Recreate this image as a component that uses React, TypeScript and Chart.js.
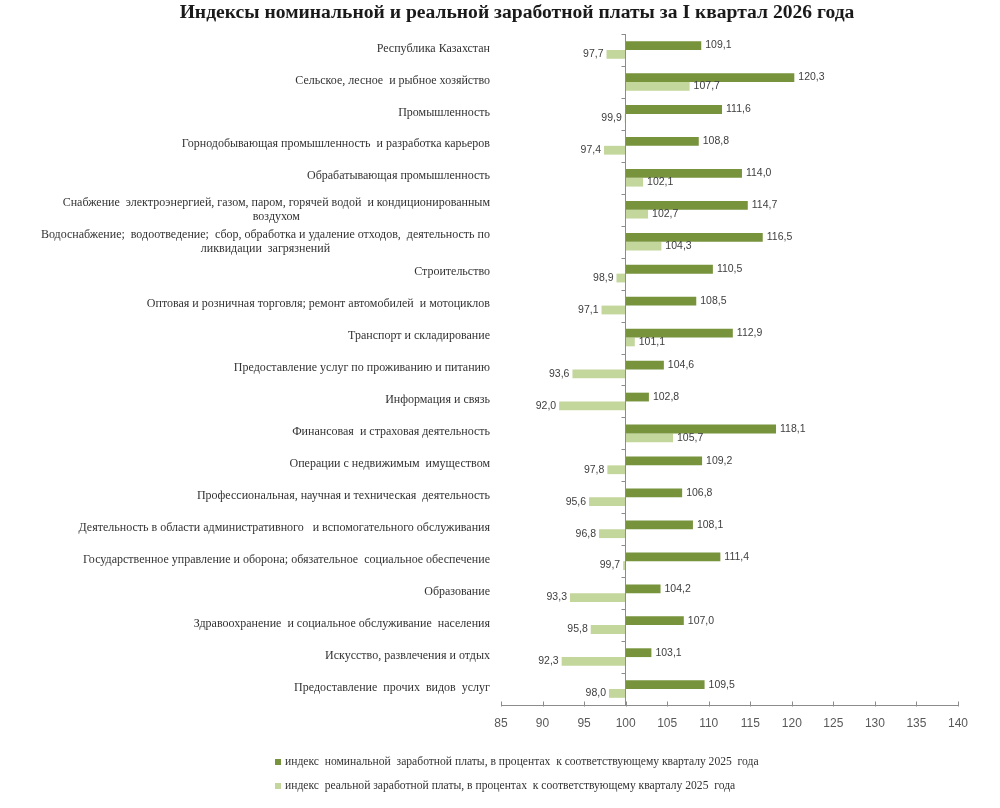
import React, { useRef, useEffect } from "react";
import { Chart, registerables } from "chart.js";

Chart.register(...registerables);

const chartTitle = "Индексы номинальной и реальной заработной платы за I квартал 2026 года";

const categories: (string | string[])[] = [
	"Республика Казахстан",
	"Сельское, лесное  и рыбное хозяйство",
	"Промышленность",
	"Горнодобывающая промышленность  и разработка карьеров",
	"Обрабатывающая промышленность",
	["Снабжение  электроэнергией, газом, паром, горячей водой  и кондиционированным", "воздухом"],
	["Водоснабжение;  водоотведение;  сбор, обработка и удаление отходов,  деятельность по", "ликвидации  загрязнений"],
	"Строительство",
	"Оптовая и розничная торговля; ремонт автомобилей  и мотоциклов",
	"Транспорт и складирование",
	"Предоставление услуг по проживанию и питанию",
	"Информация и связь",
	"Финансовая  и страховая деятельность",
	"Операции с недвижимым  имуществом",
	"Профессиональная, научная и техническая  деятельность",
	"Деятельность в области административного   и вспомогательного обслуживания",
	"Государственное управление и оборона; обязательное  социальное обеспечение",
	"Образование",
	"Здравоохранение  и социальное обслуживание  населения",
	"Искусство, развлечения и отдых",
	"Предоставление  прочих  видов  услуг",
];

const nominalIndex = [
	109.1, 120.3, 111.6, 108.8, 114.0, 114.7, 116.5, 110.5, 108.5, 112.9, 104.6,
	102.8, 118.1, 109.2, 106.8, 108.1, 111.4, 104.2, 107.0, 103.1, 109.5,
];

const realIndex = [
	97.7, 107.7, 99.9, 97.4, 102.1, 102.7, 104.3, 98.9, 97.1, 101.1, 93.6,
	92.0, 105.7, 97.8, 95.6, 96.8, 99.7, 93.3, 95.8, 92.3, 98.0,
];

const seriesNames = [
	"индекс  номинальной  заработной платы, в процентах  к соответствующему кварталу 2025  года",
	"индекс  реальной заработной платы, в процентах  к соответствующему кварталу 2025  года",
];

const seriesColors = ["#77933C", "#C3D69B"];

const baseValue = 100;
const axisMin = 85;
const axisMax = 140;
const axisStep = 5;

const fmt = (v: number) => v.toFixed(1).replace(".", ",");

const decorations = {
	id: "decorations",
	afterDraw(chart: any) {
		const { ctx, chartArea, scales } = chart;
		const xs = scales.x;
		const ys = scales.y;
		ctx.save();

		// title
		ctx.fillStyle = "#1a1a1a";
		ctx.font = "bold 19.6px 'Liberation Serif'";
		ctx.textAlign = "center";
		ctx.textBaseline = "middle";
		ctx.fillText(chartTitle, 517, 13);

		// axis lines + small ticks
		ctx.strokeStyle = "#8c8c8c";
		ctx.lineWidth = 1;
		const x0 = Math.round(xs.getPixelForValue(baseValue)) - 0.5;
		const yb = Math.round(chartArea.bottom) + 0.5;
		ctx.beginPath();
		ctx.moveTo(x0, chartArea.top);
		ctx.lineTo(x0, yb);
		for (let i = 0; i <= categories.length; i++) {
			const yy = Math.round(ys.getPixelForValue(i - 0.5)) + 0.5;
			ctx.moveTo(x0 - 4, yy);
			ctx.lineTo(x0, yy);
		}
		ctx.moveTo(chartArea.left, yb);
		ctx.lineTo(chartArea.right, yb);
		for (let v = axisMin; v <= axisMax; v += axisStep) {
			const xx = Math.round(xs.getPixelForValue(v)) + 0.5;
			ctx.moveTo(xx, yb - 4);
			ctx.lineTo(xx, yb + 1);
		}
		ctx.stroke();

		// category labels
		ctx.fillStyle = "#333333";
		ctx.font = "12px 'Liberation Serif'";
		ctx.textBaseline = "middle";
		const labelRight = chartArea.left - 11;
		categories.forEach((label, i) => {
			const cy = ys.getPixelForValue(i);
			if (Array.isArray(label)) {
				const w = Math.max(...label.map((l) => ctx.measureText(l).width));
				ctx.textAlign = "center";
				label.forEach((line, k) => {
					ctx.fillText(line, labelRight - w / 2, cy - 7 + k * 14.5);
				});
			} else {
				ctx.textAlign = "right";
				ctx.fillText(label, labelRight, cy - 1.5);
			}
		});

		// value labels
		ctx.font = "10.5px 'Liberation Sans'";
		ctx.fillStyle = "#404040";
		chart.data.datasets.forEach((ds: any, d: number) => {
			const meta = chart.getDatasetMeta(d);
			meta.data.forEach((el: any, i: number) => {
				const v = ds.data[i][1];
				const left = Math.min(el.x, el.base);
				const right = Math.max(el.x, el.base);
				if (v >= baseValue) {
					ctx.textAlign = "left";
					ctx.fillText(fmt(v), right + 4, el.y);
				} else {
					ctx.textAlign = "right";
					ctx.fillText(fmt(v), left - 3, el.y);
				}
			});
		});

		// legend
		ctx.font = "11.6px 'Liberation Serif'";
		ctx.textAlign = "left";
		seriesNames.forEach((name, k) => {
			const ly = 762 + k * 24;
			ctx.fillStyle = seriesColors[k];
			ctx.fillRect(275, ly - 3, 6, 6);
			ctx.fillStyle = "#333333";
			ctx.fillText(name, 285, ly);
		});

		ctx.restore();
	},
};

function WageChart() {
	const chartRef = useRef<HTMLCanvasElement>(null);
	const chartInstance = useRef<Chart | null>(null);

	useEffect(() => {
		if (chartInstance.current) {
			chartInstance.current.destroy();
			chartInstance.current = null;
		}
		if (!chartRef.current) return;
		const ctx = chartRef.current.getContext("2d");
		if (!ctx) return;

		chartInstance.current = new Chart(ctx, {
			type: "bar",
			data: {
				labels: categories.map((c) => (Array.isArray(c) ? c.join(" ") : c)),
				datasets: [
					{
						label: seriesNames[0],
						data: nominalIndex.map((v) => [baseValue, v]),
						backgroundColor: seriesColors[0],
						borderWidth: 0,
					},
					{
						label: seriesNames[1],
						data: realIndex.map((v) => [baseValue, v]),
						backgroundColor: seriesColors[1],
						borderWidth: 0,
					},
				],
			},
			options: {
				indexAxis: "y",
				animation: false,
				responsive: true,
				maintainAspectRatio: false,
				categoryPercentage: 0.55,
				barPercentage: 1.0,
				layout: { padding: { left: 501, right: 42, top: 34, bottom: 73 } },
				plugins: {
					legend: { display: false },
					tooltip: { enabled: false },
					title: { display: false },
				},
				scales: {
					x: {
						min: axisMin,
						max: axisMax,
						ticks: {
							stepSize: axisStep,
							color: "#595959",
							font: { family: "Liberation Sans", size: 12 },
							padding: 11,
						},
						grid: { display: false, drawTicks: false },
						border: { display: false },
						afterFit: (s: any) => {
							s.height = 30;
						},
					},
					y: {
						display: false,
						grid: { display: false },
					},
				},
			} as any,
			plugins: [decorations],
		} as any);

		return () => {
			if (chartInstance.current) {
				chartInstance.current.destroy();
				chartInstance.current = null;
			}
		};
	}, []);

	return (
		<div style={{ position: "absolute", left: 0, top: 0, width: 1000, height: 808, background: "#fff" }}>
			<canvas ref={chartRef}></canvas>
		</div>
	);
}

export default function App() {
	return <WageChart />;
}
